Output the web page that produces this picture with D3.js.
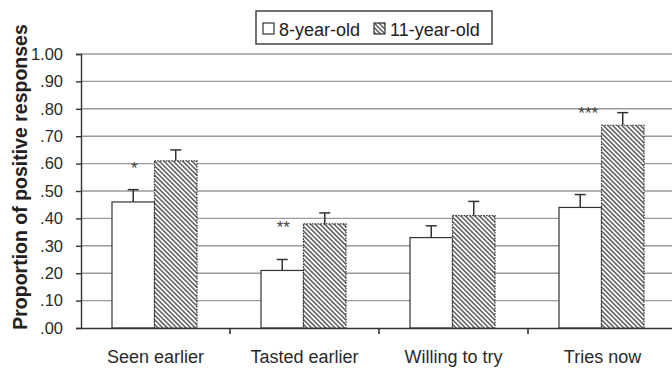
<!DOCTYPE html>
<html>
<head>
<meta charset="utf-8">
<script src="https://cdn.jsdelivr.net/npm/d3@7"></script>
<style>
  html, body { margin: 0; padding: 0; background: #fff; }
  svg { display: block; font-family: "Liberation Sans", Arial, sans-serif; }
</style>
</head>
<body>
<svg id="chart" width="672" height="368"></svg>
<script>
// ---- data ----
const categories = ["Seen earlier", "Tasted earlier", "Willing to try", "Tries now"];
const seriesNames = ["8-year-old", "11-year-old"];
const values8 = [0.46, 0.21, 0.33, 0.44];
const values11 = [0.61, 0.38, 0.41, 0.74];
const errors8 = [0.045, 0.04, 0.043, 0.047];
const errors11 = [0.04, 0.04, 0.052, 0.046];
const sigLabels = ["*", "**", "", "***"];
const sigLevels = [0.60, 0.383, null, 0.80];
const yTickValues = [0, 0.1, 0.2, 0.3, 0.4, 0.5, 0.6, 0.7, 0.8, 0.9, 1.0];
const yTickLabels = [".00", ".10", ".20", ".30", ".40", ".50", ".60", ".70", ".80", ".90", "1.00"];
const yTitle = "Proportion of positive responses";

// ---- layout ----
const W = 672, H = 368;
const plot = { left: 81, right: 677, top: 54, bottom: 328 };
const svg = d3.select("#chart");
const ink = "#333";

const y = d3.scaleLinear().domain([0, 1]).range([plot.bottom, plot.top]);
const x = d3.scaleBand().domain(categories).range([plot.left, plot.right]).paddingInner(0).paddingOuter(0);
const x1 = d3.scaleBand().domain(seriesNames).range([31, 116]).padding(0);

// hatch pattern
const defs = svg.append("defs");
const pat = defs.append("pattern")
  .attr("id", "hatch").attr("patternUnits", "userSpaceOnUse")
  .attr("width", 3.3).attr("height", 3.3)
  .attr("patternTransform", "rotate(-45)");
pat.append("rect").attr("width", 3.3).attr("height", 3.3).attr("fill", "#fff");
pat.append("line").attr("x1", 0.8).attr("y1", 0).attr("x2", 0.8).attr("y2", 3.3)
  .attr("stroke", "#3a3a3a").attr("stroke-width", 1.25);

// gridlines
svg.append("g").selectAll("line")
  .data(yTickValues.filter(v => v > 0))
  .join("line")
  .attr("x1", plot.left).attr("x2", W)
  .attr("y1", d => y(d)).attr("y2", d => y(d))
  .attr("stroke", "#9a9a9a").attr("stroke-width", 1.4);

// y axis
const yAxis = d3.axisLeft(y).tickValues(yTickValues)
  .tickFormat((d, i) => yTickLabels[i]).tickSize(5).tickPadding(13);
const gy = svg.append("g").attr("transform", `translate(${plot.left},0)`).call(yAxis);
gy.select(".domain").attr("stroke", ink).attr("stroke-width", 1.4);
gy.selectAll(".tick line").attr("stroke", ink).attr("stroke-width", 1.4);
gy.selectAll(".tick text").attr("fill", "#2a2a2a").style("font-size", "16.5px")
  .style("font-family", "'Liberation Sans', Arial, sans-serif");

// bars
const groups = svg.append("g").selectAll("g")
  .data(categories.map((c, i) => ({ c, i })))
  .join("g")
  .attr("transform", d => `translate(${x(d.c)},0)`);

const barData = d => [
  { s: seriesNames[0], v: values8[d.i], e: errors8[d.i] },
  { s: seriesNames[1], v: values11[d.i], e: errors11[d.i] }
];

// error bars (drawn first so bar outline sits on top)
groups.each(function(d) {
  const g = d3.select(this);
  barData(d).forEach(b => {
    const cx = x1(b.s) + x1.bandwidth() / 2;
    g.append("line").attr("x1", cx).attr("x2", cx)
      .attr("y1", y(b.v)).attr("y2", y(b.v + b.e))
      .attr("stroke", ink).attr("stroke-width", 1.5);
    g.append("line").attr("x1", cx - 5.5).attr("x2", cx + 5.5)
      .attr("y1", y(b.v + b.e)).attr("y2", y(b.v + b.e))
      .attr("stroke", ink).attr("stroke-width", 1.5);
  });
});

groups.selectAll("rect")
  .data(barData)
  .join("rect")
  .attr("x", b => x1(b.s))
  .attr("y", b => y(b.v))
  .attr("width", x1.bandwidth())
  .attr("height", b => y(0) - y(b.v))
  .attr("fill", (b, i) => i === 0 ? "#fff" : "url(#hatch)")
  .attr("stroke", ink)
  .attr("stroke-width", 1.2)
  .attr("stroke-dasharray", (b, i) => i === 0 ? null : "1.6,1.2");

// significance stars
groups.append("text")
  .attr("x", d => x1(seriesNames[0]) + x1.bandwidth() / 2 + (d.i === 3 ? 8 : 1))
  .attr("y", d => sigLevels[d.i] == null ? 0 : y(sigLevels[d.i]) + 10)
  .attr("text-anchor", "middle")
  .attr("fill", "#444")
  .style("font-size", "17px")
  .text(d => sigLabels[d.i]);

// x axis
const xAxis = d3.axisBottom(x).tickSize(0).tickPadding(22);
const gx = svg.append("g").attr("transform", `translate(0,${plot.bottom})`).call(xAxis);
gx.select(".domain").attr("stroke", ink).attr("stroke-width", 1.4);
gx.selectAll(".tick text").attr("fill", "#2a2a2a").style("font-size", "18px")
  .style("font-family", "'Liberation Sans', Arial, sans-serif");
// boundary ticks between categories
gx.append("g").selectAll("line")
  .data(categories.slice(1))
  .join("line")
  .attr("x1", d => x(d)).attr("x2", d => x(d))
  .attr("y1", 0).attr("y2", 6)
  .attr("stroke", ink).attr("stroke-width", 1.6);

// y title
svg.append("text")
  .attr("transform", "translate(27,177) rotate(-90)")
  .attr("text-anchor", "middle")
  .attr("fill", "#222")
  .style("font-size", "19.5px").style("font-weight", "bold")
  .text(yTitle);

// legend
const lg = svg.append("g");
lg.append("rect").attr("x", 256).attr("y", 11).attr("width", 236).attr("height", 33)
  .attr("fill", "#fff").attr("stroke", "#444").attr("stroke-width", 1.5);
const legendItems = [
  { name: seriesNames[0], fill: "#fff", sx: 263 },
  { name: seriesNames[1], fill: "url(#hatch)", sx: 374 }
];
legendItems.forEach(it => {
  lg.append("rect").attr("x", it.sx).attr("y", 23).attr("width", 11).attr("height", 11)
    .attr("fill", it.fill).attr("stroke", ink).attr("stroke-width", 1.2);
  lg.append("text").attr("x", it.sx + 16).attr("y", 36)
    .attr("fill", "#222").style("font-size", "18px").text(it.name);
});
</script>
</body>
</html>
